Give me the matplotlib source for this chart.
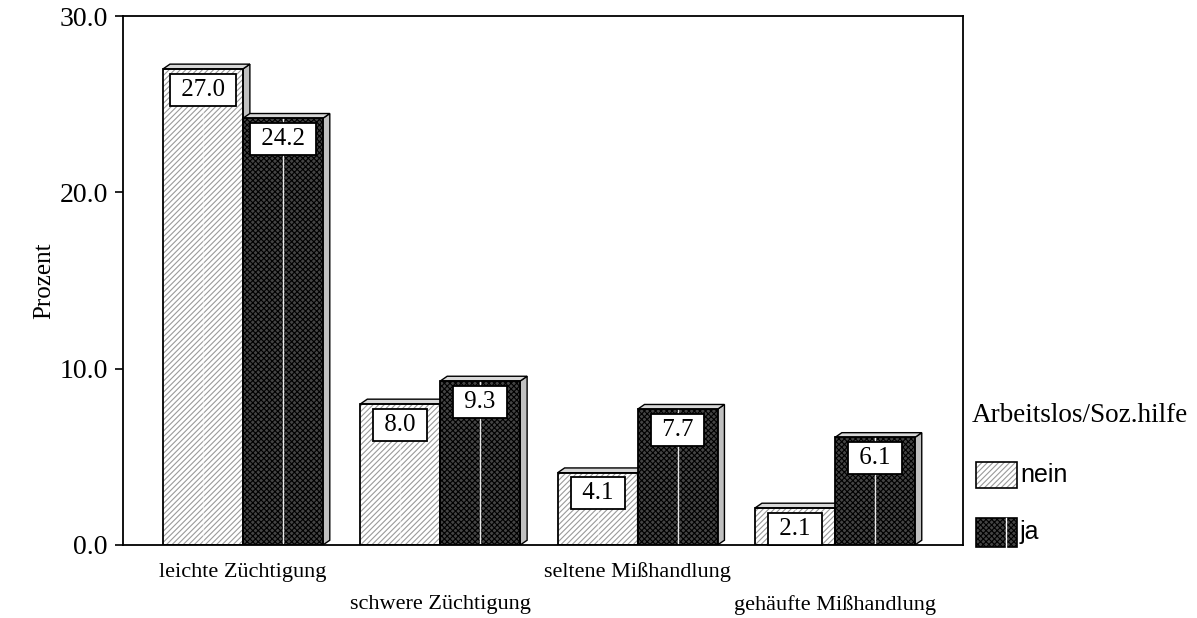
import matplotlib
matplotlib.use('Agg')
import matplotlib.pyplot as plt
from matplotlib.patches import Polygon, Rectangle
from matplotlib.lines import Line2D

categories = ['leichte Züchtigung', 'schwere Züchtigung', 'seltene Mißhandlung', 'gehäufte Mißhandlung']
nein = [27.0, 8.0, 4.1, 2.1]
ja = [24.2, 9.3, 7.7, 6.1]
series = [('nein', nein), ('ja', ja)]
yticks = [0, 10, 20, 30]

serif = 'Liberation Serif'
sans = 'Liberation Sans'
plt.rcParams['hatch.linewidth'] = 0.8

styles = {
    'nein': dict(facecolor='white', hatch='//////', hatchcolor='#9a9a9a'),
    'ja': dict(facecolor='#444444', hatch='xxxxxx', hatchcolor='black'),
}

W, H = 1197, 618
fig = plt.figure(figsize=(W / 100, H / 100), dpi=100)
ax = fig.add_axes([123 / W, 73 / H, 840 / W, 529 / H])

w = 0.405
dx, dy = 0.035, 0.27


def draw_bar(x0, h, st):
    x1 = x0 + w
    ax.add_patch(Rectangle((x0, 0), w, h, facecolor=st['facecolor'], edgecolor=st['hatchcolor'],
                           hatch=st['hatch'], linewidth=0, zorder=2))
    ax.add_patch(Rectangle((x0, 0), w, h, facecolor='none', edgecolor='black', linewidth=1.3, zorder=3))
    # white seam line in the middle of the texture
    ax.plot([x0 + w / 2, x0 + w / 2], [0, h], color='white', lw=1,
            alpha=0.9 if st['facecolor'] != 'white' else 0.5, zorder=2.5)
    side = Polygon([(x1, 0), (x1 + dx, dy), (x1 + dx, h + dy), (x1, h)], closed=True,
                   facecolor='#c0c0c0', edgecolor='black', linewidth=1.0, zorder=2)
    top = Polygon([(x0, h), (x0 + dx, h + dy), (x1 + dx, h + dy), (x1, h)], closed=True,
                  facecolor='#d8d8d8', edgecolor='black', linewidth=1.0, zorder=2)
    ax.add_patch(side)
    ax.add_patch(top)


for i in range(len(categories)):
    for j, (name, vals) in enumerate(series):
        x0 = i - w + j * w
        draw_bar(x0, vals[i], styles[name])
        ax.text(x0 + w / 2, vals[i] - 1.17, f' {vals[i]:.1f} ', ha='center', va='center',
                fontsize=18, family=serif, zorder=5,
                bbox=dict(boxstyle='square,pad=0.2', facecolor='white', edgecolor='black', linewidth=1.3))

ax.set_xlim(-0.608, 3.649)
ax.set_ylim(0, 30)
ax.set_yticks(yticks)
ax.set_yticklabels([f'{t:.1f}' for t in yticks], fontsize=20, family=serif)
ax.set_xticks([])
ax.tick_params(axis='y', direction='out', length=6, width=1.2, pad=5)
for s in ax.spines.values():
    s.set_linewidth(1.3)
ax.set_ylabel('Prozent', fontsize=18, family=serif)
ax.yaxis.set_label_coords(-0.081, 0.5)

for i, c in enumerate(categories):
    yy = -1.55 if i % 2 == 0 else -3.4
    ax.text(i, yy, c, ha='center', va='center', fontsize=16, family=serif, clip_on=False)

# legend, placed by hand in figure pixels
fig.text(972 / W, 1 - 416 / H, 'Arbeitslos/Soz.hilfe', ha='left', va='center', fontsize=19.5, family=serif)
leg_rows = [('nein', 462, 488), ('ja', 518, 547)]
for name, ytop, ybot in leg_rows:
    st = styles[name]
    fig.add_artist(Rectangle((976 / W, 1 - ybot / H), 41 / W, (ybot - ytop) / H,
                             facecolor=st['facecolor'], edgecolor=st['hatchcolor'], hatch=st['hatch'],
                             linewidth=0, transform=fig.transFigure))
    if name == 'ja':
        fig.add_artist(Line2D([1006 / W, 1006 / W], [1 - ybot / H, 1 - ytop / H], color='white', lw=1,
                              transform=fig.transFigure))
    fig.add_artist(Rectangle((976 / W, 1 - ybot / H), 41 / W, (ybot - ytop) / H,
                             facecolor='none', edgecolor='black', linewidth=1.2, transform=fig.transFigure))
    fig.text(1020 / W, 1 - (ytop + ybot) / 2 / H, name, ha='left', va='center', fontsize=18, family=sans)

fig.savefig('out.png', dpi=100)
